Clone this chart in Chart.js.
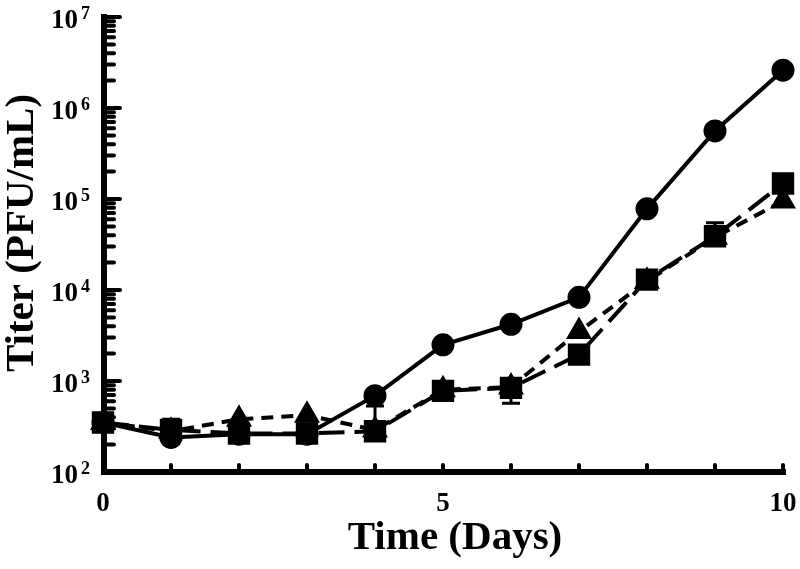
<!DOCTYPE html>
<html>
<head>
<meta charset="utf-8">
<script src="https://cdn.jsdelivr.net/npm/chart.js@4"></script>
<style>
  html, body { margin: 0; padding: 0; background: #fff; }
  #wrap { width: 800px; height: 569px; }
</style>
</head>
<body>
<div id="wrap"><canvas id="titerChart" width="800" height="569"></canvas></div>
<script>
// days post infection
const days = [0, 1, 2, 3, 4, 5, 6, 7, 8, 9, 10];

// titer (PFU/mL) per series
const circleTiter = [350, 240, 260, 260, 690, 2500, 4200, 8300, 78000, 560000, 2600000];
const triangleTiter = [350, 280, 380, 420, 290, 800, 860, 3500, 12500, 38000, 95000];
const squareTiter = [350, 290, 265, 265, 280, 780, 840, 1950, 13000, 39000, 148000];

// error bar ends (null = none shown)
const circleErrHigh = [null, null, null, null, null, null, null, null, null, null, null];
const circleErrLow = [null, null, null, null, null, null, null, null, 68000, null, null];
const squareErrHigh = [null, 380, null, null, 530, null, null, null, null, 55000, null];
const squareErrLow = [null, 205, null, null, null, null, 570, null, null, null, null];

const xTickLabels = [0, 5, 10];
const yDecades = [2, 3, 4, 5, 6, 7];

const fontFamily = '"Liberation Serif", "Times New Roman", serif';

function toPoints(values) {
  return days.map((d, i) => ({ x: d, y: values[i] }));
}

const errorBarPlugin = {
  id: 'errorBars',
  beforeDatasetsDraw(chart) {
    const { ctx, scales: { x, y } } = chart;
    const sets = [
      { hi: circleErrHigh, lo: circleErrLow, vals: circleTiter },
      { hi: squareErrHigh, lo: squareErrLow, vals: squareTiter }
    ];
    ctx.save();
    ctx.strokeStyle = '#000';
    ctx.lineWidth = 3;
    sets.forEach(s => {
      days.forEach((d, i) => {
        const px = x.getPixelForValue(d);
        const py = y.getPixelForValue(s.vals[i]);
        [s.hi[i], s.lo[i]].forEach(end => {
          if (end === null) return;
          const pe = y.getPixelForValue(end);
          ctx.beginPath();
          ctx.moveTo(px, py);
          ctx.lineTo(px, pe);
          ctx.moveTo(px - 9, pe);
          ctx.lineTo(px + 9, pe);
          ctx.stroke();
        });
      });
    });
    ctx.restore();
  }
};

const axesPlugin = {
  id: 'axesDraw',
  afterDraw(chart) {
    const { ctx, chartArea: a, scales: { x, y } } = chart;
    ctx.save();
    ctx.strokeStyle = '#000';
    ctx.fillStyle = '#000';
    ctx.lineCap = 'round';

    // y minor + major ticks, pointing inward
    ctx.lineWidth = 4;
    yDecades.forEach(p => {
      const base = Math.pow(10, p);
      const py = y.getPixelForValue(base);
      ctx.beginPath();
      ctx.moveTo(a.left, py);
      ctx.lineTo(a.left + 17, py);
      ctx.stroke();
      if (p < 7) {
        for (let m = 2; m <= 9; m++) {
          const pm = y.getPixelForValue(base * m);
          ctx.beginPath();
          ctx.moveTo(a.left, pm);
          ctx.lineTo(a.left + 11, pm);
          ctx.stroke();
        }
      }
    });

    // x ticks
    days.forEach(d => {
      if (d === 0) return;
      const px = x.getPixelForValue(d);
      ctx.beginPath();
      ctx.moveTo(px, a.bottom);
      ctx.lineTo(px, a.bottom - 7);
      ctx.stroke();
    });

    // axis lines
    ctx.lineCap = 'square';
    ctx.lineWidth = 6;
    ctx.beginPath();
    ctx.moveTo(a.left + 1, a.top);
    ctx.lineTo(a.left + 1, a.bottom);
    ctx.lineTo(a.right, a.bottom);
    ctx.stroke();

    // y tick labels: 10 with superscript exponent
    yDecades.forEach(p => {
      const py = y.getPixelForValue(Math.pow(10, p));
      ctx.font = 'bold 27px ' + fontFamily;
      ctx.textAlign = 'right';
      ctx.textBaseline = 'middle';
      ctx.fillText('10', a.left - 25, py + 4);
      ctx.font = 'bold 18px ' + fontFamily;
      ctx.textAlign = 'left';
      ctx.fillText(String(p), a.left - 22, py - 3);
    });

    // x tick labels
    ctx.font = 'bold 27px ' + fontFamily;
    ctx.textAlign = 'center';
    ctx.textBaseline = 'middle';
    xTickLabels.forEach(v => {
      ctx.fillText(String(v), x.getPixelForValue(v), a.bottom + 32);
    });

    // axis titles
    ctx.font = 'bold 41px ' + fontFamily;
    ctx.fillText('Time (Days)', 455, 538);
    ctx.translate(22, 233);
    ctx.rotate(-Math.PI / 2);
    ctx.fillText('Titer (PFU/mL)', 0, 0);
    ctx.restore();
  }
};

const ctx = document.getElementById('titerChart').getContext('2d');

new Chart(ctx, {
  type: 'line',
  data: {
    datasets: [
      {
        label: 'circle',
        data: toPoints(circleTiter),
        borderColor: '#000',
        backgroundColor: '#000',
        borderWidth: 4,
        pointStyle: 'circle',
        pointRadius: 9.5,
        clip: false
      },
      {
        label: 'triangle',
        data: toPoints(triangleTiter),
        borderColor: '#000',
        backgroundColor: '#000',
        borderWidth: 4,
        borderDash: [12, 8],
        pointStyle: 'triangle',
        pointRadius: 11,
        clip: false
      },
      {
        label: 'square',
        data: toPoints(squareTiter),
        borderColor: '#000',
        backgroundColor: '#000',
        borderWidth: 4,
        borderDash: [26, 10],
        pointStyle: 'rect',
        pointRadius: 13,
        clip: false
      }
    ]
  },
  options: {
    responsive: false,
    animation: false,
    layout: { padding: { left: 103, right: 14, top: 13, bottom: 97 } },
    plugins: {
      legend: { display: false },
      tooltip: { enabled: false }
    },
    scales: {
      x: { type: 'linear', min: 0, max: 10, display: false },
      y: { type: 'logarithmic', min: 100, max: 10000000, display: false }
    }
  },
  plugins: [errorBarPlugin, axesPlugin]
});
</script>
</body>
</html>
